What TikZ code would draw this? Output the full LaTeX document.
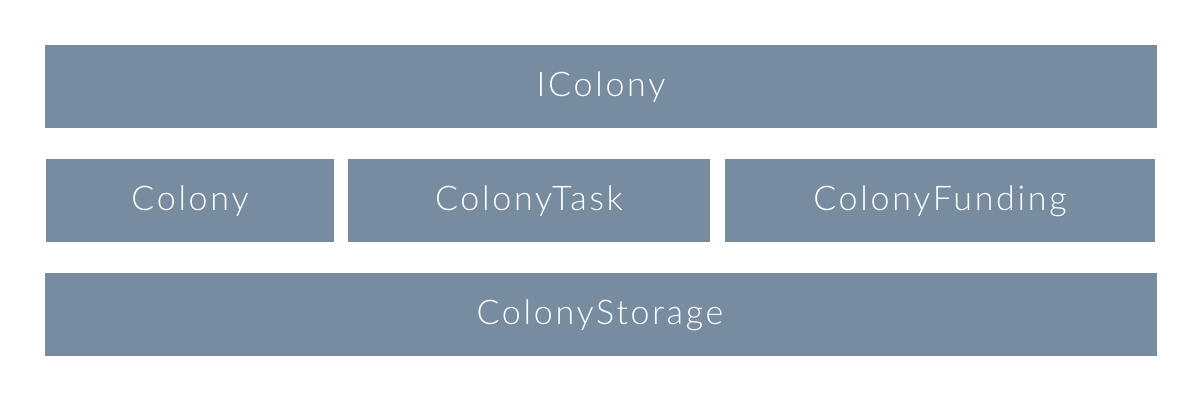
\documentclass[tikz,border=0pt]{standalone}
\usepackage{fontspec}
\newfontfamily\boxfont[LetterSpace=8]{Lato Light}
\definecolor{slate}{HTML}{788CA0}
\begin{document}
\begin{tikzpicture}[x=1pt,y=-1pt,
  blk/.style={fill=slate,draw=none,inner sep=0pt,outer sep=0pt},
  lbl/.style={text=white,font=\boxfont\fontsize{34}{40}\selectfont,inner sep=0pt,anchor=center}]
\useasboundingbox[fill=white] (0,0) rectangle (1200,401);
\fill[blk] (45,45) rectangle (1157,128);
\fill[blk] (46,159) rectangle (334,242);
\fill[blk] (348,159) rectangle (710,242);
\fill[blk] (725,159) rectangle (1155,242);
\fill[blk] (45,273) rectangle (1157,356);
\node[lbl] (icolony) at (601,87) {IColony};
\node[lbl] (colony) at (190,201) {Colony};
\node[lbl] (task) at (529,201) {ColonyTask};
\node[lbl] (funding) at (940,201) {ColonyFunding};
\node[lbl] (storage) at (600,315) {ColonyStorage};
\end{tikzpicture}
\end{document}
